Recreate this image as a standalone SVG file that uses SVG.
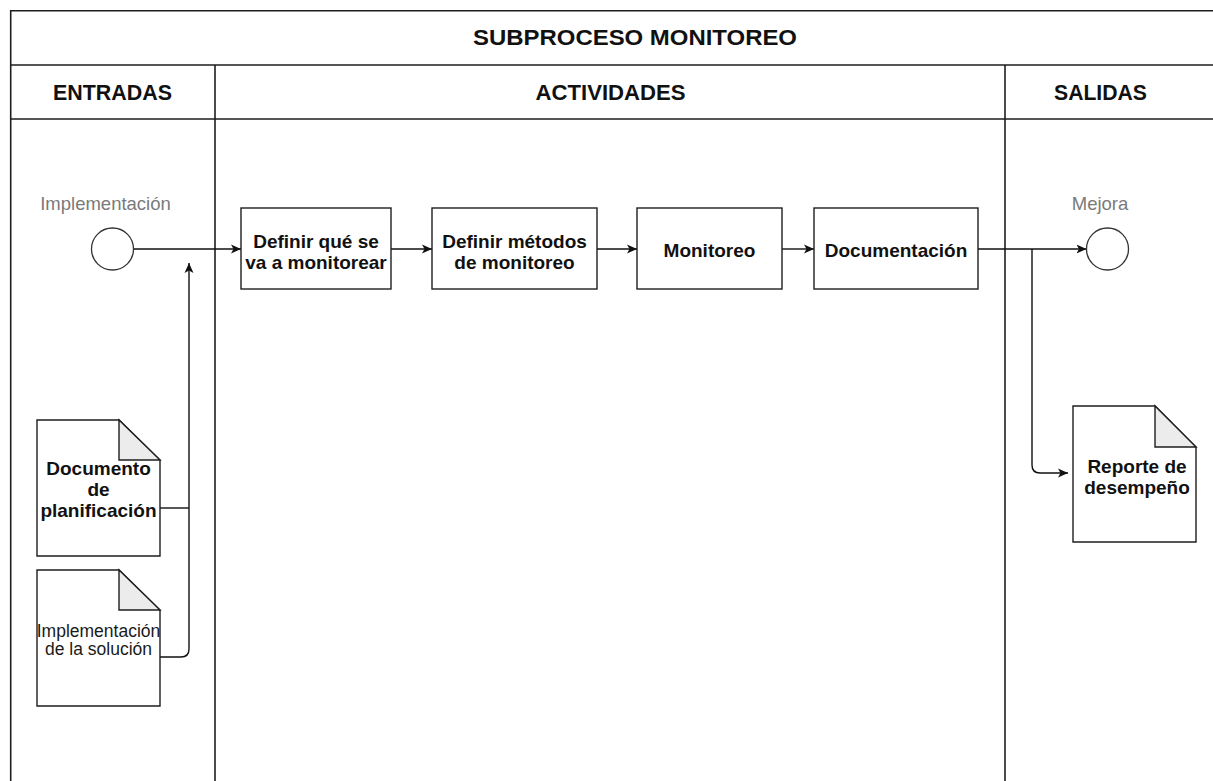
<svg xmlns="http://www.w3.org/2000/svg" width="1213" height="781" viewBox="0 0 1213 781">
<defs>
<style>
.frame{stroke:#1e1e1e;stroke-width:1.6;fill:none}
.box{fill:#fff;stroke:#1e1e1e;stroke-width:1.4}
.fold{fill:#ececec;stroke:#1e1e1e;stroke-width:1.4;stroke-linejoin:miter}
.ev{fill:#fff;stroke:#333;stroke-width:1.3}
.edge{fill:none;stroke:#111;stroke-width:1.4}
.hdr{font-family:"Liberation Sans",Arial,sans-serif;font-weight:bold;fill:#111;text-anchor:middle}
.bt{font-family:"Liberation Sans",Arial,sans-serif;font-weight:bold;font-size:19px;fill:#111;text-anchor:middle}
.lbl{font-family:"Liberation Sans",Arial,sans-serif;font-size:18.5px;fill:#7a7a7a;text-anchor:middle}
.rt{font-family:"Liberation Sans",Arial,sans-serif;font-size:17.5px;fill:#1a1a1a;text-anchor:middle}
</style>
<marker id="arr" viewBox="0 0 10 10" refX="10" refY="5" markerWidth="10" markerHeight="10" markerUnits="userSpaceOnUse" orient="auto">
<path d="M0,0.5 L10,5 L0,9.5 L2.5,5 Z" fill="#111"/>
</marker>
</defs>
<rect width="1213" height="781" fill="#fff"/>
<g id="pool">
<path class="frame" d="M10.7,781 V10.7 H1214 M10.7,65 H1214 M10.7,119 H1214 M215,65 V781 M1005,65 V781"/>
<text class="hdr" x="635" y="44.5" font-size="22" textLength="324" lengthAdjust="spacingAndGlyphs">SUBPROCESO MONITOREO</text>
<text class="hdr" x="112.5" y="100" font-size="21.5" textLength="119" lengthAdjust="spacingAndGlyphs">ENTRADAS</text>
<text class="hdr" x="610.5" y="100" font-size="21.5" textLength="150" lengthAdjust="spacingAndGlyphs">ACTIVIDADES</text>
<text class="hdr" x="1100.5" y="100" font-size="21.5" textLength="93" lengthAdjust="spacingAndGlyphs">SALIDAS</text>
</g>
<g id="connectors">
<path class="edge" d="M133.5,249 H241" marker-end="url(#arr)"/>
<path class="edge" d="M391,249 H432" marker-end="url(#arr)"/>
<path class="edge" d="M597,249 H637" marker-end="url(#arr)"/>
<path class="edge" d="M782,249 H814" marker-end="url(#arr)"/>
<path class="edge" d="M978,249 H1086.5" marker-end="url(#arr)"/>
<path class="edge" d="M1032,249 V465 Q1032,473 1040,473 H1068" marker-end="url(#arr)"/>
<path class="edge" d="M160,508 H189"/>
<path class="edge" d="M160,657 H181 Q189,657 189,649 V263" marker-end="url(#arr)"/>
</g>
<g id="start">
<circle class="ev" cx="112.5" cy="249" r="21"/>
<text class="lbl" x="105.5" y="209.5">Implementación</text>
</g>
<g id="end">
<circle class="ev" cx="1107.5" cy="249" r="21"/>
<text class="lbl" x="1100" y="209.5">Mejora</text>
</g>
<g id="task1">
<rect class="box" x="241" y="208" width="150" height="81"/>
<text class="bt" x="316" y="247.5">Definir qué se</text>
<text class="bt" x="316" y="268.5">va a monitorear</text>
</g>
<g id="task2">
<rect class="box" x="432" y="208" width="165" height="81"/>
<text class="bt" x="514.5" y="247.5">Definir métodos</text>
<text class="bt" x="514.5" y="268.5">de monitoreo</text>
</g>
<g id="task3">
<rect class="box" x="637" y="208" width="145" height="81"/>
<text class="bt" x="709.5" y="257">Monitoreo</text>
</g>
<g id="task4">
<rect class="box" x="814" y="208" width="164" height="81"/>
<text class="bt" x="896" y="257">Documentación</text>
</g>
<g id="doc-planificacion">
<path class="box" d="M37,420 H119 L160,460 V556 H37 Z"/>
<path class="fold" d="M119,420 V460 H160 Z"/>
<text class="bt" x="98.5" y="475">Documento</text>
<text class="bt" x="98.5" y="496">de</text>
<text class="bt" x="98.5" y="517">planificación</text>
</g>
<g id="doc-implementacion">
<path class="box" d="M37,570 H119 L160,610 V706 H37 Z"/>
<path class="fold" d="M119,570 V610 H160 Z"/>
<text class="rt" x="98.5" y="636.5">Implementación</text>
<text class="rt" x="98.5" y="654.5">de la solución</text>
</g>
<g id="doc-reporte">
<path class="box" d="M1073,406 H1155 L1196,447 V542 H1073 Z"/>
<path class="fold" d="M1155,406 V447 H1196 Z"/>
<text class="bt" x="1137" y="472.5" font-size="20.5">Reporte de</text>
<text class="bt" x="1137" y="493.5" font-size="20.5">desempeño</text>
</g>
</svg>
